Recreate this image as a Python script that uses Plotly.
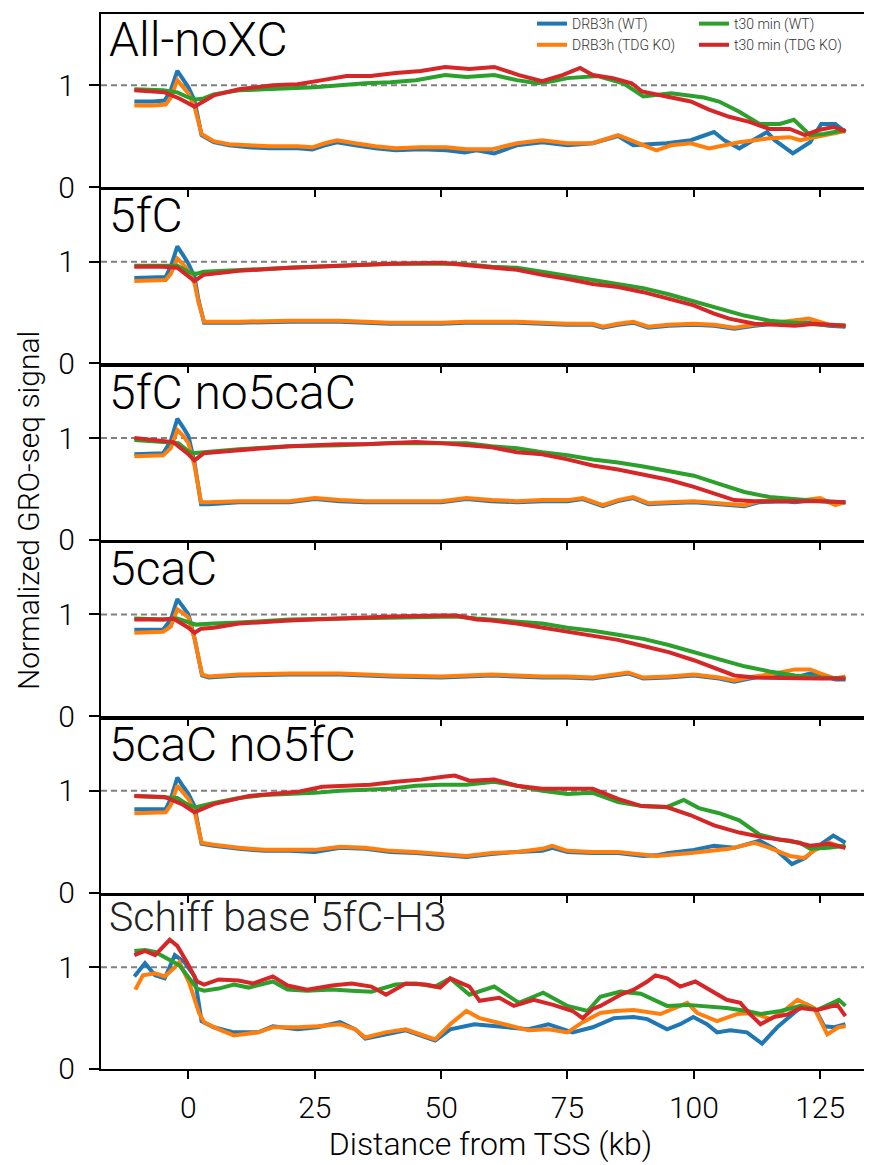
import plotly.graph_objects as go
from plotly.subplots import make_subplots

# ---------------- data (x in kb from TSS, y = normalized GRO-seq signal) ----------------
PANELS = ["All-noXC", "5fC", "5fC no5caC", "5caC", "5caC no5fC", "Schiff base 5fC-H3"]
SERIES = ["DRB3h (WT)", "DRB3h (TDG KO)", "t30 min (WT)", "t30 min (TDG KO)"]
COLORS = ["#1f77b4", "#ff7f0e", "#2ca02c", "#d62728"]
X_TICKS = [0, 25, 50, 75, 100, 125]
Y_TICKS = [0, 1]

# Panel 1: All-noXC
P1_DRB_WT_X = [-10.7, -7, -4.7, -3.5, -2.2, -1, 0, 1.2, 2.6, 5, 8, 12, 16, 21.6, 24.5, 27, 29.4, 33, 37, 41, 46, 51, 54.7, 57, 60.5, 65, 70, 75, 80, 85, 88, 91, 94.6, 99.4, 104, 106, 109, 114.5, 116, 119.6, 123, 125.2, 128, 130]
P1_DRB_WT_Y = [0.84, 0.84, 0.85, 0.95, 1.14, 1.06, 0.98, 0.85, 0.51, 0.44, 0.41, 0.39, 0.38, 0.38, 0.37, 0.41, 0.44, 0.41, 0.38, 0.36, 0.37, 0.36, 0.34, 0.36, 0.33, 0.41, 0.44, 0.41, 0.43, 0.50, 0.41, 0.42, 0.43, 0.46, 0.54, 0.46, 0.38, 0.54, 0.46, 0.33, 0.44, 0.62, 0.62, 0.54]
P1_DRB_KO_X = [-10.7, -7, -4.5, -3.5, -2.2, -1, 0, 1.2, 2.6, 5, 8, 12, 16, 21.6, 24.5, 27, 29.4, 33, 37, 41, 46, 51, 55, 60, 65, 70, 75, 80, 85, 88, 92.6, 95.5, 99.4, 103, 109, 115, 119, 121, 125, 128.6, 130]
P1_DRB_KO_Y = [0.80, 0.80, 0.81, 0.88, 1.05, 0.98, 0.92, 0.79, 0.52, 0.45, 0.42, 0.41, 0.40, 0.40, 0.39, 0.43, 0.46, 0.43, 0.40, 0.38, 0.39, 0.39, 0.37, 0.37, 0.43, 0.46, 0.43, 0.43, 0.51, 0.45, 0.36, 0.41, 0.43, 0.38, 0.44, 0.48, 0.49, 0.46, 0.50, 0.54, 0.55]
P1_T30_WT_X = [-10.7, -5, -2.2, 0, 1.5, 3, 5, 10, 15, 20, 25, 30, 35, 40, 45, 50.8, 55, 60.5, 65, 69, 72, 75, 78, 81, 86, 90, 95.5, 99.4, 102, 105, 109, 113, 117, 119.8, 123, 125.7, 130]
P1_T30_WT_Y = [0.96, 0.95, 0.93, 0.88, 0.86, 0.87, 0.91, 0.95, 0.96, 0.97, 0.98, 1.00, 1.02, 1.03, 1.05, 1.10, 1.08, 1.10, 1.05, 1.02, 1.04, 1.07, 1.08, 1.09, 1.02, 0.89, 0.92, 0.90, 0.88, 0.84, 0.74, 0.62, 0.62, 0.66, 0.51, 0.52, 0.56]
P1_T30_KO_X = [-10.7, -4.7, -1.8, 1.2, 5, 10, 16.7, 21.6, 26.5, 31.3, 36, 41, 46, 50.8, 55.6, 60.5, 65.4, 70, 74, 77.5, 80, 84, 87.7, 89.7, 94.6, 99.4, 103, 107, 111, 115, 119, 122, 124.7, 127.6, 130]
P1_T30_KO_Y = [0.95, 0.93, 0.87, 0.79, 0.90, 0.96, 1.00, 1.01, 1.05, 1.09, 1.09, 1.12, 1.14, 1.18, 1.16, 1.18, 1.10, 1.04, 1.10, 1.17, 1.10, 1.07, 1.02, 0.94, 0.89, 0.84, 0.76, 0.69, 0.64, 0.57, 0.57, 0.51, 0.56, 0.59, 0.55]

# Panel 2: 5fC
P2_DRB_X = [-10.7, -4.5, -3.5, -2.2, -1, 0, 1.2, 2, 3.1, 5, 10, 20, 30, 40, 50, 55, 60, 65, 70, 75, 80, 82, 85, 88, 91, 95, 100, 104, 108, 112, 116, 122.8, 126.7, 130]
P2_DRB_WT_Y = [0.84, 0.85, 0.95, 1.15, 1.06, 0.98, 0.85, 0.62, 0.40, 0.40, 0.40, 0.41, 0.41, 0.39, 0.39, 0.40, 0.40, 0.40, 0.39, 0.38, 0.38, 0.35, 0.38, 0.40, 0.35, 0.37, 0.38, 0.37, 0.34, 0.37, 0.39, 0.40, 0.37, 0.36]
P2_DRB_KO_Y = [0.81, 0.82, 0.88, 1.03, 0.97, 0.91, 0.79, 0.60, 0.41, 0.41, 0.41, 0.42, 0.42, 0.40, 0.40, 0.41, 0.41, 0.41, 0.40, 0.39, 0.39, 0.36, 0.39, 0.41, 0.36, 0.38, 0.39, 0.38, 0.35, 0.38, 0.40, 0.44, 0.38, 0.37]
P2_T30_WT_X = [-10.7, -5, -2.2, 0, 1.5, 3, 10, 20, 30, 40, 50, 54, 60, 65, 70, 75, 80, 85, 90, 95, 100, 105, 110, 115, 120, 125, 130]
P2_T30_WT_Y = [0.96, 0.96, 0.96, 0.90, 0.88, 0.90, 0.92, 0.94, 0.96, 0.98, 0.98, 0.98, 0.95, 0.94, 0.90, 0.86, 0.82, 0.78, 0.74, 0.68, 0.61, 0.55, 0.47, 0.42, 0.40, 0.38, 0.37]
P2_T30_KO_X = [-10.7, -5, -2.2, 0, 1.2, 3, 10, 20, 30, 40, 50, 54, 60, 65, 70, 75, 80, 85, 90, 95, 100, 104, 107, 112, 120, 124, 130]
P2_T30_KO_Y = [0.95, 0.95, 0.94, 0.86, 0.81, 0.87, 0.91, 0.94, 0.96, 0.98, 0.99, 0.97, 0.94, 0.92, 0.87, 0.83, 0.78, 0.75, 0.70, 0.64, 0.57, 0.49, 0.44, 0.39, 0.37, 0.39, 0.37]

# Panel 3: 5fC no5caC
P3_DRB_X = [-10.7, -5, -3.5, -2.2, -1, 0, 1.2, 2.5, 4, 10, 20, 25, 30, 35, 40, 50, 55, 60, 65, 70, 75, 78, 82, 85, 88, 91, 95, 100, 105, 110, 113, 118, 120, 125, 128, 130]
P3_DRB_WT_Y = [0.84, 0.85, 0.97, 1.19, 1.10, 1.02, 0.76, 0.35, 0.35, 0.37, 0.37, 0.40, 0.38, 0.37, 0.37, 0.37, 0.40, 0.38, 0.37, 0.38, 0.38, 0.40, 0.33, 0.38, 0.41, 0.35, 0.36, 0.37, 0.35, 0.33, 0.37, 0.38, 0.37, 0.40, 0.35, 0.37]
P3_DRB_KO_Y = [0.82, 0.83, 0.90, 1.08, 1.02, 0.95, 0.73, 0.37, 0.37, 0.38, 0.38, 0.41, 0.39, 0.38, 0.38, 0.38, 0.41, 0.39, 0.38, 0.39, 0.39, 0.41, 0.34, 0.39, 0.42, 0.36, 0.37, 0.38, 0.36, 0.34, 0.38, 0.39, 0.38, 0.41, 0.34, 0.37]
P3_T30_WT_X = [-10.7, -5, -2, 0, 1, 3, 10, 20, 30, 40, 50, 55, 60, 65, 70, 75, 80, 85, 90, 95, 100, 105, 110, 115, 120, 125, 130]
P3_T30_WT_Y = [0.98, 0.96, 0.95, 0.87, 0.85, 0.86, 0.89, 0.92, 0.93, 0.95, 0.95, 0.95, 0.92, 0.90, 0.86, 0.83, 0.79, 0.76, 0.72, 0.68, 0.63, 0.55, 0.47, 0.42, 0.40, 0.38, 0.37]
P3_T30_KO_X = [-10.7, -5, -3, 0, 1.2, 3, 5, 10, 20, 25, 30, 35, 40, 45, 50, 55, 60, 65, 70, 75, 80, 85, 90, 95, 100, 105, 108, 112, 120, 125, 130]
P3_T30_KO_Y = [1.00, 0.97, 0.96, 0.84, 0.78, 0.85, 0.86, 0.88, 0.92, 0.93, 0.94, 0.94, 0.95, 0.96, 0.95, 0.93, 0.91, 0.86, 0.84, 0.79, 0.73, 0.69, 0.64, 0.59, 0.52, 0.44, 0.39, 0.38, 0.38, 0.38, 0.37]

# Panel 4: 5caC
P4_DRB_X = [-10.7, -5, -3.5, -2.2, -1, 0, 1.2, 2.7, 4, 10, 20, 30, 40, 50, 55, 60, 65, 70, 75, 80, 87, 90, 95, 100, 105, 108, 112, 115, 120, 123, 125, 128, 130]
P4_DRB_WT_Y = [0.85, 0.85, 0.95, 1.15, 1.07, 1.00, 0.77, 0.40, 0.38, 0.40, 0.41, 0.41, 0.39, 0.38, 0.39, 0.40, 0.39, 0.38, 0.38, 0.37, 0.42, 0.37, 0.38, 0.40, 0.37, 0.34, 0.38, 0.40, 0.38, 0.42, 0.41, 0.36, 0.36]
P4_DRB_KO_Y = [0.82, 0.83, 0.88, 1.05, 1.01, 0.97, 0.76, 0.41, 0.39, 0.41, 0.42, 0.42, 0.40, 0.39, 0.40, 0.41, 0.40, 0.39, 0.39, 0.38, 0.43, 0.38, 0.39, 0.41, 0.38, 0.35, 0.39, 0.41, 0.46, 0.46, 0.42, 0.37, 0.39]
P4_T30_WT_X = [-10.7, -5, -2.2, 0, 1.5, 5, 10, 20, 30, 40, 50, 53, 57, 60, 65, 70, 75, 80, 85, 90, 95, 100, 105, 110, 115, 120, 125, 130]
P4_T30_WT_Y = [0.96, 0.95, 0.96, 0.92, 0.90, 0.91, 0.92, 0.95, 0.96, 0.97, 0.98, 0.98, 0.96, 0.95, 0.93, 0.91, 0.87, 0.84, 0.80, 0.76, 0.70, 0.63, 0.56, 0.49, 0.44, 0.40, 0.38, 0.37]
P4_T30_KO_X = [-10.7, -5, -3, 0, 1.2, 2.5, 5, 10, 20, 30, 40, 50, 53, 57, 60, 65, 70, 75, 80, 85, 90, 95, 100, 105, 108, 112, 120, 125, 130]
P4_T30_KO_Y = [0.95, 0.95, 0.96, 0.87, 0.82, 0.86, 0.87, 0.91, 0.94, 0.96, 0.98, 0.99, 0.99, 0.95, 0.94, 0.91, 0.87, 0.83, 0.79, 0.75, 0.69, 0.63, 0.55, 0.46, 0.40, 0.38, 0.37, 0.37, 0.37]

# Panel 5: 5caC no5fC
P5_DRB_WT_X = [-10.7, -4.5, -3.5, -2.2, -1, 0, 1.2, 2.6, 5, 10, 15, 20, 25, 30, 35, 40, 45, 50, 55, 60, 65, 70, 72, 75, 80, 85, 90, 93, 95, 100, 104, 108, 113, 116, 119.4, 122, 124.7, 127.6, 130]
P5_DRB_WT_Y = [0.82, 0.82, 0.92, 1.13, 1.04, 0.97, 0.85, 0.48, 0.46, 0.43, 0.41, 0.41, 0.40, 0.44, 0.43, 0.40, 0.39, 0.37, 0.35, 0.38, 0.40, 0.41, 0.44, 0.40, 0.39, 0.39, 0.36, 0.37, 0.39, 0.42, 0.46, 0.44, 0.51, 0.43, 0.28, 0.34, 0.46, 0.56, 0.49]
P5_DRB_KO_X = [-10.7, -4.5, -3.5, -2.2, -1, 0, 1.2, 2.6, 5, 10, 15, 20, 25, 30, 35, 40, 45, 50, 55, 60, 65, 70, 72, 75, 80, 85, 92.6, 99.4, 107, 112, 115, 119, 121.8, 123.7, 126.7, 130]
P5_DRB_KO_Y = [0.78, 0.79, 0.86, 1.05, 0.98, 0.92, 0.80, 0.49, 0.47, 0.44, 0.42, 0.42, 0.42, 0.45, 0.44, 0.41, 0.40, 0.38, 0.36, 0.39, 0.40, 0.43, 0.46, 0.41, 0.40, 0.40, 0.36, 0.39, 0.43, 0.49, 0.44, 0.36, 0.34, 0.41, 0.49, 0.44]
P5_T30_WT_X = [-10.7, -5, -2.2, 0, 1.5, 5, 10, 15, 20, 25, 30, 35, 40, 45, 50, 55, 60.5, 65, 70, 75, 80, 85, 89.7, 94.6, 98, 101, 105, 109, 113, 117, 121, 123, 126.7, 130]
P5_T30_WT_Y = [0.95, 0.94, 0.93, 0.86, 0.84, 0.88, 0.93, 0.96, 0.97, 0.98, 1.00, 1.01, 1.02, 1.05, 1.06, 1.06, 1.09, 1.05, 1.00, 0.97, 0.98, 0.89, 0.85, 0.84, 0.91, 0.83, 0.78, 0.71, 0.57, 0.52, 0.49, 0.43, 0.44, 0.46]
P5_T30_KO_X = [-10.7, -4.7, -1.3, 1.2, 5, 12, 21.6, 26.5, 31.3, 36, 41, 46, 50.8, 52.7, 55.6, 60.5, 65, 70, 75, 80, 85, 89.7, 94.6, 99.4, 104, 109, 114, 119, 123, 126.7, 130]
P5_T30_KO_Y = [0.95, 0.94, 0.87, 0.79, 0.87, 0.95, 0.99, 1.04, 1.05, 1.06, 1.09, 1.11, 1.14, 1.15, 1.10, 1.11, 1.05, 1.02, 1.02, 1.02, 0.92, 0.85, 0.84, 0.76, 0.66, 0.59, 0.54, 0.51, 0.46, 0.48, 0.44]

# Panel 6: Schiff base 5fC-H3
P6_DRB_WT_X = [-10.7, -8.6, -6.6, -4.7, -2.7, -0.8, 1.2, 2.6, 5, 9, 13.8, 16.7, 21.6, 25.5, 30, 33, 35, 39, 43, 48.8, 51.8, 56.6, 62.5, 67.3, 71.2, 76, 80, 84.2, 88.1, 90.8, 94.7, 97.3, 99.9, 102.6, 104.6, 107.2, 110.5, 113.5, 116.5, 118.5, 120.5, 122.5, 124.1, 125.8, 127.8, 130]
P6_DRB_WT_Y = [0.91, 1.04, 0.92, 0.89, 1.12, 1.05, 0.91, 0.47, 0.41, 0.36, 0.36, 0.42, 0.39, 0.41, 0.46, 0.39, 0.30, 0.34, 0.38, 0.28, 0.39, 0.44, 0.41, 0.39, 0.44, 0.36, 0.41, 0.50, 0.51, 0.49, 0.39, 0.44, 0.51, 0.44, 0.36, 0.38, 0.36, 0.25, 0.41, 0.49, 0.58, 0.63, 0.58, 0.42, 0.41, 0.44]
P6_DRB_KO_X = [-10.5, -9, -6.6, -4.7, -2.7, -1.8, 0.2, 2.1, 3.1, 6, 9, 13.8, 16.7, 21.6, 25.5, 30, 33, 35, 39, 43, 48.8, 51.8, 55, 57.6, 62.5, 67.3, 71.2, 75, 78, 81.5, 84.5, 88.1, 93.4, 98.7, 100.7, 104.6, 108.6, 111.7, 115.2, 118, 120.5, 123.8, 126.4, 128.6, 130]
P6_DRB_KO_Y = [0.78, 0.92, 0.94, 0.91, 1.00, 1.05, 0.84, 0.55, 0.46, 0.39, 0.33, 0.36, 0.41, 0.41, 0.42, 0.44, 0.39, 0.31, 0.36, 0.39, 0.29, 0.44, 0.57, 0.50, 0.44, 0.38, 0.39, 0.36, 0.46, 0.55, 0.57, 0.58, 0.54, 0.65, 0.55, 0.47, 0.54, 0.55, 0.49, 0.58, 0.68, 0.60, 0.34, 0.41, 0.42]
P6_T30_WT_X = [-10.7, -8.6, -6.6, -4.7, -1.8, 0.2, 1.7, 3.1, 6, 9, 11.9, 16.7, 19.6, 23.5, 28.4, 32.3, 36.2, 41, 45, 48.8, 51.8, 55.6, 60.5, 65.4, 70.2, 75, 79, 81.5, 85.5, 89.5, 92, 94.7, 98.7, 101.3, 106.5, 110.5, 113.2, 117.2, 121.1, 124.4, 128.7, 130]
P6_T30_WT_Y = [1.16, 1.17, 1.15, 1.10, 1.02, 0.89, 0.79, 0.77, 0.79, 0.83, 0.80, 0.86, 0.78, 0.77, 0.78, 0.77, 0.76, 0.83, 0.84, 0.81, 0.89, 0.73, 0.81, 0.65, 0.75, 0.62, 0.57, 0.71, 0.76, 0.74, 0.68, 0.62, 0.63, 0.62, 0.60, 0.57, 0.54, 0.57, 0.62, 0.58, 0.68, 0.62]
P6_T30_KO_X = [-10.7, -8.6, -6.6, -4.7, -3.7, -2.2, -0.3, 1.7, 3.1, 6, 9.9, 12.8, 16.7, 19.6, 23.5, 28.4, 32.3, 36.2, 39.1, 43, 46.9, 49.8, 51.8, 55.6, 57.6, 61.5, 64.4, 68.3, 72.2, 76, 78, 80, 81.5, 85.5, 88.1, 90.8, 92.4, 94.7, 97.3, 100.3, 102.6, 106.5, 109.2, 111.2, 113.2, 115.8, 118.5, 121.1, 124.4, 128.4, 130]
P6_T30_KO_Y = [1.12, 1.16, 1.12, 1.21, 1.27, 1.21, 1.05, 0.86, 0.83, 0.88, 0.87, 0.84, 0.91, 0.82, 0.78, 0.82, 0.84, 0.81, 0.73, 0.84, 0.83, 0.80, 0.89, 0.81, 0.67, 0.70, 0.62, 0.68, 0.63, 0.57, 0.50, 0.59, 0.62, 0.73, 0.78, 0.86, 0.92, 0.89, 0.81, 0.86, 0.79, 0.68, 0.65, 0.535, 0.44, 0.51, 0.535, 0.60, 0.58, 0.63, 0.52]

PANEL_DATA = [
    [(P1_DRB_WT_X, P1_DRB_WT_Y), (P1_DRB_KO_X, P1_DRB_KO_Y), (P1_T30_WT_X, P1_T30_WT_Y), (P1_T30_KO_X, P1_T30_KO_Y)],
    [(P2_DRB_X, P2_DRB_WT_Y), (P2_DRB_X, P2_DRB_KO_Y), (P2_T30_WT_X, P2_T30_WT_Y), (P2_T30_KO_X, P2_T30_KO_Y)],
    [(P3_DRB_X, P3_DRB_WT_Y), (P3_DRB_X, P3_DRB_KO_Y), (P3_T30_WT_X, P3_T30_WT_Y), (P3_T30_KO_X, P3_T30_KO_Y)],
    [(P4_DRB_X, P4_DRB_WT_Y), (P4_DRB_X, P4_DRB_KO_Y), (P4_T30_WT_X, P4_T30_WT_Y), (P4_T30_KO_X, P4_T30_KO_Y)],
    [(P5_DRB_WT_X, P5_DRB_WT_Y), (P5_DRB_KO_X, P5_DRB_KO_Y), (P5_T30_WT_X, P5_T30_WT_Y), (P5_T30_KO_X, P5_T30_KO_Y)],
    [(P6_DRB_WT_X, P6_DRB_WT_Y), (P6_DRB_KO_X, P6_DRB_KO_Y), (P6_T30_WT_X, P6_T30_WT_Y), (P6_T30_KO_X, P6_T30_KO_Y)],
]

# ---------------- figure ----------------
# The page body has an 8px default margin, so the figure is offset by (8, 8);
# margins below compensate so the plot area lands where the reference has it.
W, H = 872, 1165
OFF = 8
M_L, M_R, M_T, M_B = 101 - OFF, 0, 10 - OFF, H - (1069 - OFF)
N = len(PANELS)
GAP_PX = 3.4
plot_w = W - M_L - M_R
plot_h = H - M_T - M_B
vs = GAP_PX / plot_h
PX_PER_KB = 5.054
X_MIN = -17.3
X_MAX = X_MIN + plot_w / PX_PER_KB

FONT = "Roboto, 'Liberation Sans', Arial, sans-serif"

fig = make_subplots(rows=N, cols=1, shared_xaxes=True, vertical_spacing=vs)

for r, series in enumerate(PANEL_DATA, start=1):
    for i, (xs, ys) in enumerate(series):
        fig.add_trace(
            go.Scatter(
                x=xs, y=ys, mode="lines", name=SERIES[i],
                line=dict(color=COLORS[i], width=4),
                showlegend=(r == 1),
                legend="legend" if i < 2 else "legend2",
            ),
            row=r, col=1,
        )
    fig.add_hline(y=1, line=dict(color="#808080", width=2, dash="6px,4px"),
                  layer="below", row=r, col=1)
    xref = "x domain" if r == 1 else f"x{r} domain"
    yref = "y domain" if r == 1 else f"y{r} domain"
    fig.add_annotation(
        text=PANELS[r - 1], xref=xref, yref=yref, x=0.008, y=1.03,
        xanchor="left", yanchor="top", showarrow=False,
        font=dict(family=FONT, size=48 if r < N else 41,
                  color="black" if r < N else "#222", weight=300),
    )

fig.update_xaxes(
    range=[X_MIN, X_MAX], tickvals=X_TICKS, ticks="outside", ticklen=8, tickwidth=2,
    tickcolor="black", showline=True, linewidth=2, linecolor="black", mirror=True,
    showgrid=False, zeroline=False, tickfont=dict(size=30, family=FONT, weight=300),
    ticklabelstandoff=3,
)
fig.update_yaxes(
    range=[0, 1.7], tickvals=Y_TICKS, ticks="outside", ticklen=10, tickwidth=2,
    tickcolor="black", showline=True, linewidth=2, linecolor="black",
    showgrid=False, zeroline=False, tickfont=dict(size=30, family=FONT, weight=300),
    ticklabelstandoff=8,
)
fig.update_xaxes(title=dict(text="Distance from TSS (kb)", font=dict(size=32, family=FONT, weight=300), standoff=9),
                 row=N, col=1)

fig.add_annotation(
    text="Normalized GRO-seq signal", xref="paper", yref="paper",
    x=(28 - OFF - M_L) / plot_w, y=(H - M_B - (509 - OFF)) / plot_h,
    textangle=-90, showarrow=False, xanchor="center", yanchor="middle",
    font=dict(size=30, family=FONT, weight=300, color="black"),
)

leg_common = dict(
    xanchor="left", yanchor="top", bgcolor="rgba(0,0,0,0)", borderwidth=0,
    font=dict(size=14, family=FONT, color="#333"), itemwidth=30, tracegroupgap=0,
    traceorder="normal",
)
fig.update_layout(
    width=W, height=H,
    margin=dict(l=M_L, r=M_R, t=M_T, b=M_B),
    paper_bgcolor="white", plot_bgcolor="rgba(0,0,0,0)",
    font=dict(family=FONT, color="black", weight=300),
    legend=dict(x=(532 - OFF - M_L) / plot_w, y=1.006, **leg_common),
    legend2=dict(x=(694 - OFF - M_L) / plot_w, y=1.006, **leg_common),
)

fig.write_html("out.html")
